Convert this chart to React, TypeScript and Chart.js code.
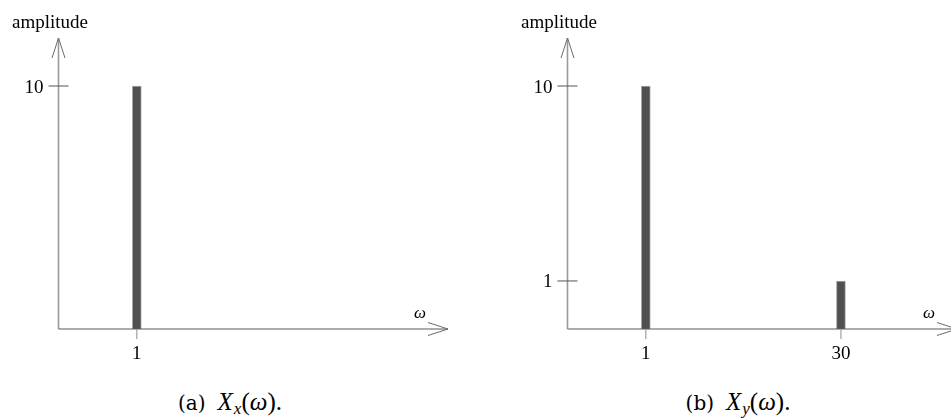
import React, { useEffect, useRef } from "react";
import { Chart, registerables } from "chart.js";

Chart.register(...registerables);

// Panel (a): X_x(ω)
const freqA = [1];
const ampA = [10];
const xTicksA = [1];
const yTicksA = [10];

// Panel (b): X_y(ω)
const freqB = [1, 30];
const ampB = [10, 1];
const xTicksB = [1, 30];
const yTicksB = [10, 1];

const Y_MIN = 0.567;
const Y_MAX = 17.63;
const X_MIN = -10.64;
const X_MAX = 47.25;

const CW = 460;
const CH = 370;

const SERIF = '"Liberation Serif", "Times New Roman", serif';

function makeAxesPlugin(xTicks: number[], yTicks: number[]) {
  return {
    id: "axesArrows",
    afterDatasetsDraw(chart: any) {
      const ctx = chart.ctx as CanvasRenderingContext2D;
      const xs = chart.scales.x;
      const ys = chart.scales.y;
      const ca = chart.chartArea;
      const x0 = ca.left;
      const y0 = ca.bottom;
      const top = ca.top;
      const right = ca.right;
      ctx.save();
      // y axis line
      ctx.strokeStyle = "#9a9a9a";
      ctx.lineWidth = 1.6;
      ctx.beginPath();
      ctx.moveTo(x0, y0);
      ctx.lineTo(x0, top);
      ctx.stroke();
      // y arrow head
      ctx.strokeStyle = "#6a6a6a";
      ctx.lineWidth = 1;
      ctx.beginPath();
      ctx.moveTo(x0 - 6.5, top + 20);
      ctx.lineTo(x0, top);
      ctx.lineTo(x0 + 6.5, top + 20);
      ctx.stroke();
      // x axis line
      ctx.strokeStyle = "#5a5a5a";
      ctx.lineWidth = 1.2;
      ctx.beginPath();
      ctx.moveTo(x0, y0);
      ctx.lineTo(right, y0);
      ctx.stroke();
      // x arrow head
      ctx.strokeStyle = "#6a6a6a";
      ctx.lineWidth = 1;
      ctx.beginPath();
      ctx.moveTo(right - 20, y0 - 6.5);
      ctx.lineTo(right, y0);
      ctx.lineTo(right - 20, y0 + 6.5);
      ctx.stroke();

      // y ticks
      ctx.font = `19px ${SERIF}`;
      ctx.fillStyle = "#000";
      ctx.textAlign = "right";
      ctx.textBaseline = "alphabetic";
      yTicks.forEach((v) => {
        const py = ys.getPixelForValue(v);
        ctx.strokeStyle = "#555";
        ctx.lineWidth = 1;
        ctx.beginPath();
        ctx.moveTo(x0 - 10, py);
        ctx.lineTo(x0 + 10, py);
        ctx.stroke();
        ctx.fillText(String(v), x0 - 15, py + 6.5);
      });
      // x ticks
      ctx.textAlign = "center";
      xTicks.forEach((v) => {
        const px = xs.getPixelForValue(v);
        ctx.strokeStyle = "#a0a0a0";
        ctx.lineWidth = 1.2;
        ctx.beginPath();
        ctx.moveTo(px, y0);
        ctx.lineTo(px, y0 + 10);
        ctx.stroke();
        ctx.fillText(String(v), px, y0 + 30);
      });
      // axis titles
      ctx.textAlign = "center";
      ctx.fillText("amplitude", x0 - 8.5, 27.5);
      ctx.font = `italic 17px ${SERIF}`;
      ctx.fillText("ω", right - 28, y0 - 11);
      ctx.restore();
    },
  };
}

function Panel(props: {
  freq: number[];
  amp: number[];
  xTicks: number[];
  yTicks: number[];
  left: number;
}) {
  const ref = useRef<HTMLCanvasElement | null>(null);
  useEffect(() => {
    if (!ref.current) return;
    const chart = new Chart(ref.current, {
      type: "bar",
      data: {
        datasets: [
          {
            data: props.freq.map((f, i) => ({ x: f, y: props.amp[i] })),
            backgroundColor: "#505050",
            borderColor: "#a8a8a8",
            borderWidth: 1,
            barThickness: 9,
          },
        ],
      },
      options: {
        responsive: false,
        animation: false,
        events: [],
        layout: { padding: { left: 58.5, top: 38, right: CW - 448, bottom: CH - 329 } },
        plugins: { legend: { display: false }, tooltip: { enabled: false } },
        scales: {
          x: { type: "linear", min: X_MIN, max: X_MAX, display: false, offset: false },
          y: { type: "logarithmic", min: Y_MIN, max: Y_MAX, display: false },
        },
      },
      plugins: [makeAxesPlugin(props.xTicks, props.yTicks)],
    });
    return () => chart.destroy();
  }, []);
  return (
    <canvas
      ref={ref}
      width={CW}
      height={CH}
      style={{ position: "absolute", left: props.left, top: 0, width: CW, height: CH }}
    />
  );
}

function Caption(props: { label: string; sub: string; cx: number }) {
  return (
    <div
      style={{
        position: "absolute",
        left: props.cx - 100,
        width: 200,
        top: 388,
        textAlign: "center",
        whiteSpace: "nowrap",
        color: "#000",
        lineHeight: "28px",
      }}
    >
      <span style={{ fontFamily: '"DejaVu Serif", serif', fontSize: 20 }}>{props.label}</span>
      <span style={{ display: "inline-block", width: 12 }} />
      <span style={{ fontFamily: SERIF, fontSize: 25, fontStyle: "italic" }}>X</span>
      <span
        style={{
          fontFamily: SERIF,
          fontSize: 17,
          fontStyle: "italic",
          position: "relative",
          top: 4,
          marginLeft: 1,
        }}
      >
        {props.sub}
      </span>
      <span style={{ fontFamily: SERIF, fontSize: 25 }}>(</span>
      <span style={{ fontFamily: SERIF, fontSize: 25, fontStyle: "italic" }}>ω</span>
      <span style={{ fontFamily: SERIF, fontSize: 25 }}>).</span>
    </div>
  );
}

export default function App() {
  return (
    <div
      style={{
        position: "absolute",
        left: 0,
        top: 0,
        width: 951,
        height: 419,
        overflow: "hidden",
        background: "#fff",
      }}
    >
      <Panel freq={freqA} amp={ampA} xTicks={xTicksA} yTicks={yTicksA} left={0} />
      <Panel freq={freqB} amp={ampB} xTicks={xTicksB} yTicks={yTicksB} left={509} />
      <Caption label="(a)" sub="x" cx={230} />
      <Caption label="(b)" sub="y" cx={738} />
    </div>
  );
}
